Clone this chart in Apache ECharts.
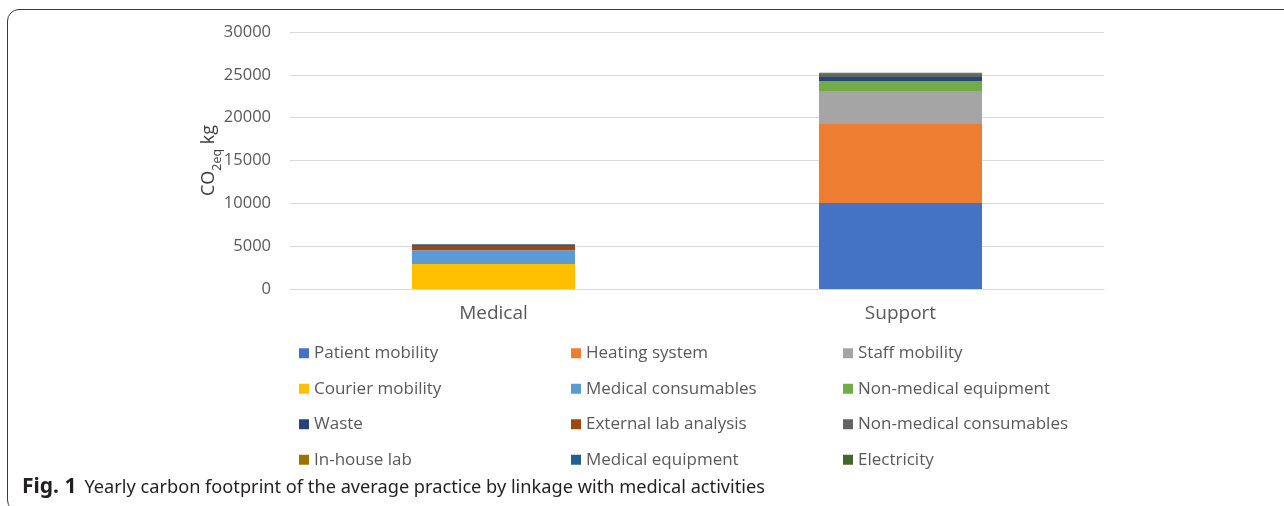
<!DOCTYPE html>
<html>
<head>
<meta charset="utf-8">
<script src="https://cdn.jsdelivr.net/npm/echarts@6/dist/echarts.min.js"></script>
<style>
  html, body { margin: 0; padding: 0; background: #fff; overflow: hidden; }
  #wrap { position: relative; width: 1284px; height: 506px; overflow: hidden; }
  #frame { position: absolute; left: 7px; top: 9px; width: 1400px; height: 503px;
           border: 1.5px solid #3a3a3a; border-radius: 12px; box-sizing: border-box; }
  #chart { position: absolute; left: 0; top: 0; width: 1284px; height: 506px; }
</style>
</head>
<body>
<div id="wrap">
  <div id="frame"></div>
  <div id="chart"></div>
</div>
<script>
// yearly CO2eq (kg) per category
var categories = ['Medical', 'Support'];
var seriesNames = ['Patient mobility', 'Heating system', 'Staff mobility', 'Courier mobility',
    'Medical consumables', 'Non-medical equipment', 'Waste', 'External lab analysis',
    'Non-medical consumables', 'In-house lab', 'Medical equipment', 'Electricity'];
var patientMobility = [0, 10050];
var heatingSystem = [0, 9200];
var staffMobility = [0, 3770];
var courierMobility = [2920, 0];
var medicalConsumables = [1600, 0];
var nonMedicalEquipment = [0, 1250];
var waste = [0, 470];
var externalLab = [500, 0];
var nonMedicalConsumables = [0, 385];
var inHouseLab = [0, 0];
var medicalEquipment = [200, 0];
var electricity = [0, 115];
var yTicks = [0, 5000, 10000, 15000, 20000, 25000, 30000];

var seriesData = [patientMobility, heatingSystem, staffMobility, courierMobility,
    medicalConsumables, nonMedicalEquipment, waste, externalLab,
    nonMedicalConsumables, inHouseLab, medicalEquipment, electricity];
var colors = ['#4472C4', '#ED7D31', '#A5A5A5', '#FFC000', '#5B9BD5', '#70AD47',
    '#264478', '#9E480E', '#636363', '#997300', '#255E91', '#43682B'];

var font = '"Open Sans", "Noto Sans", sans-serif';
var chart = echarts.init(document.getElementById('chart'));

var series = seriesNames.map(function (name, i) {
    return { name: name, type: 'bar', stack: 'total', barWidth: 163, data: seriesData[i] };
});

chart.setOption({
    animation: false,
    color: colors,
    textStyle: { fontFamily: font },
    grid: { left: 290, right: 180, top: 32, bottom: 217 },
    legend: {
        left: 299, top: 339, width: 840, padding: 0,
        itemWidth: 10, itemHeight: 10, itemGap: 7,
        icon: 'rect',
        textStyle: { fontFamily: font, fontSize: 17, color: '#595959', width: 250, lineHeight: 28.5 },
        data: seriesNames
    },
    xAxis: {
        type: 'category', data: categories,
        axisLine: { lineStyle: { color: '#d9d9d9', width: 1 } },
        axisTick: { show: false },
        axisLabel: { fontFamily: font, fontSize: 19, color: '#595959', margin: 15 }
    },
    yAxis: {
        type: 'value', min: yTicks[0], max: yTicks[yTicks.length - 1], interval: 5000,
        splitLine: { lineStyle: { color: '#d9d9d9', width: 1 } },
        axisLabel: { fontFamily: font, fontSize: 16.5, color: '#595959', margin: 19,
            formatter: function (v) { return String(v); } },
        name: '{a|CO}{b|2eq}{a| kg}',
        nameLocation: 'middle', nameGap: 72, nameRotate: 90, nameMoveOverlap: false,
        nameTextStyle: {
            rich: {
                a: { fontFamily: font, fontSize: 18, color: '#404040', lineHeight: 26, verticalAlign: 'bottom' },
                b: { fontFamily: font, fontSize: 12.5, color: '#404040', lineHeight: 26, verticalAlign: 'bottom', padding: [0, 0, -6, 0] }
            }
        }
    },
    graphic: [{
        type: 'text', left: 22, top: 477,
        style: {
            text: '{b|Fig. 1}{n|Yearly carbon footprint of the average practice by linkage with medical activities}',
            rich: {
                b: { fontFamily: '"Noto Sans", sans-serif', fontWeight: 'bold', fontSize: 21, fill: '#231f20', padding: [0, 8, 0, 0] },
                n: { fontFamily: '"Noto Sans", sans-serif', fontSize: 18.2, fill: '#231f20' }
            }
        }
    }],
    series: series
});
</script>
</body>
</html>
